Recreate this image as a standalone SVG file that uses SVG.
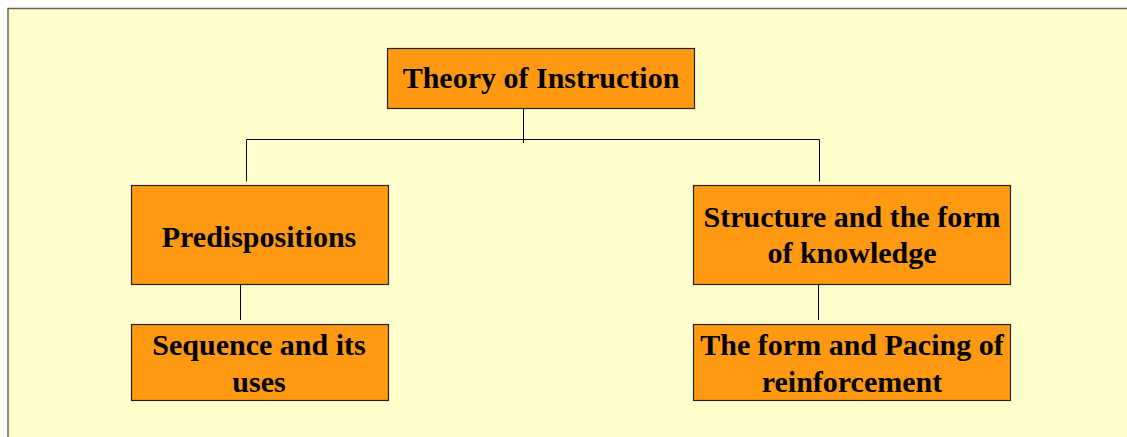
<svg xmlns="http://www.w3.org/2000/svg" width="1127" height="437" viewBox="0 0 1127 437">
<style>
.box{fill:#ff9912;stroke:#222;stroke-width:1.2}
.t{font-family:"Liberation Serif","Times New Roman",serif;font-weight:bold;font-size:30px;fill:#000;text-anchor:middle}
.c{stroke:#000;stroke-width:1;fill:none}
</style>
<rect x="0" y="0" width="1127" height="437" fill="#ffffff"/>
<rect x="8" y="8.5" width="1130" height="440" fill="#ffffcc" stroke="#666" stroke-width="1.5"/>
<g id="connectors">
<line class="c" x1="523.5" y1="103" x2="523.5" y2="143"/>
<polyline class="c" points="246.5,181.5 246.5,139.5 819.5,139.5 819.5,181.5"/>
<line class="c" x1="240.5" y1="279" x2="240.5" y2="320"/>
<line class="c" x1="818.5" y1="278" x2="818.5" y2="320"/>
</g>
<g id="root">
<rect class="box" x="387.5" y="48.5" width="307" height="60"/>
<text class="t" x="541" y="88">Theory of Instruction</text>
</g>
<g id="predispositions">
<rect class="box" x="131.5" y="185.5" width="257" height="99"/>
<text class="t" x="259" y="247">Predispositions</text>
</g>
<g id="structure">
<rect class="box" x="693.5" y="185.5" width="317" height="99"/>
<text class="t" x="852" y="227">Structure and the form</text>
<text class="t" x="852" y="263">of knowledge</text>
</g>
<g id="sequence">
<rect class="box" x="131.5" y="324.5" width="257" height="76"/>
<text class="t" x="259" y="355">Sequence and its</text>
<text class="t" x="259" y="392">uses</text>
</g>
<g id="pacing">
<rect class="box" x="693.5" y="324.5" width="317" height="76"/>
<text class="t" x="852" y="355">The form and Pacing of</text>
<text class="t" x="852" y="392">reinforcement</text>
</g>
</svg>
